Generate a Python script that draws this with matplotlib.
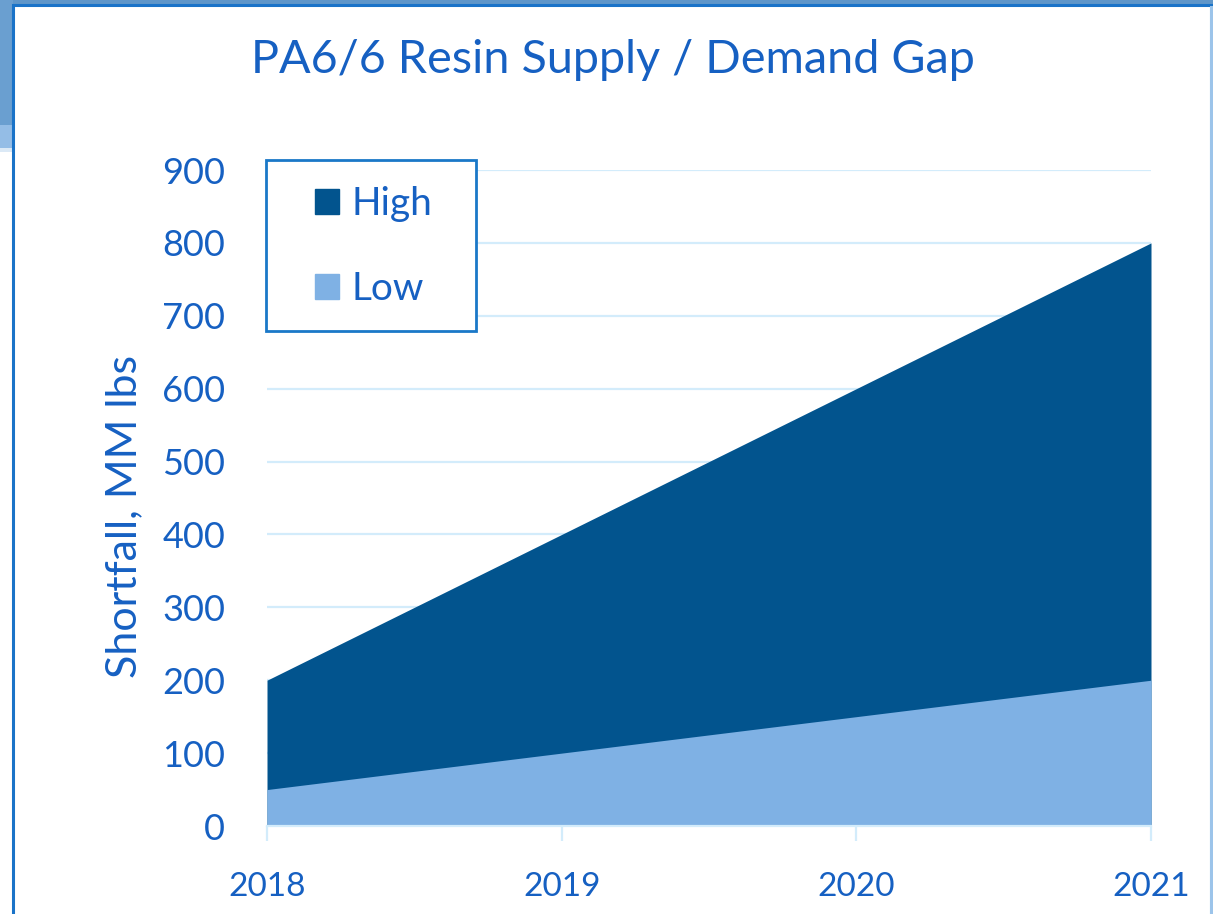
import matplotlib.pyplot as plt
from matplotlib.patches import Rectangle, Patch

# chart data
years = [2018, 2019, 2020, 2021]
high = [200, 400, 600, 800]
low = [50, 100, 150, 200]
y_ticks = [0, 100, 200, 300, 400, 500, 600, 700, 800, 900]

text_blue = '#1660c2'
dark = '#02548e'
light = '#7fb1e4'
grid_blue = '#d3ecfb'

plt.rcParams['font.family'] = ['Lato', 'DejaVu Sans']

W, H = 1213, 914
fig = plt.figure(figsize=(W / 100, H / 100), dpi=100)
fig.patch.set_facecolor('white')

# slide background bits (top strip and left strip with swoosh)
def px_rect(x0, y0, x1, y1, z=-10, **kw):
    r = Rectangle((x0 / W, 1 - y1 / H), (x1 - x0) / W, (y1 - y0) / H,
                  transform=fig.transFigure, figure=fig, zorder=z, **kw)
    fig.patches.append(r)

px_rect(0, 0, W, 6, color='#5f96c9', lw=0)
px_rect(0, 0, 13, 125, color='#6a9fd0', lw=0)
px_rect(0, 125, 13, 150, color='#94bde6', lw=0)
px_rect(0, 148, 13, 152, color='#dbe9f6', lw=0)
px_rect(13, 5, W - 2, H + 5, facecolor='white', edgecolor='#1a73c8', lw=2.2)
px_rect(W - 3, 6, W, H, color='#9cc4ea', lw=0)

ax = fig.add_axes([267 / W, 1 - 826 / H, (1151 - 267) / W, (826 - 170) / H])
ax.set_facecolor('none')

ax.fill_between(years, 0, high, color=dark, lw=0, zorder=2)
ax.fill_between(years, 0, low, color=light, lw=0, zorder=3)

ax.set_xlim(years[0], years[-1])
ax.set_ylim(0, 900)
ax.set_yticks(y_ticks)
ax.set_xticks(years)
ax.yaxis.grid(True, color=grid_blue, lw=1.6, zorder=0)
ax.set_axisbelow(True)

for s in ['top', 'right', 'left']:
    ax.spines[s].set_visible(False)
ax.spines['bottom'].set_color(grid_blue)
ax.spines['bottom'].set_linewidth(1.6)
ax.spines['bottom'].set_zorder(4)

ax.tick_params(axis='y', length=0, pad=30, labelsize=26, labelcolor=text_blue)
ax.tick_params(axis='x', length=11, width=1.6, color=grid_blue, pad=22,
               labelsize=24, labelcolor=text_blue)

fig.text(124 / W, 1 - 517 / H, 'Shortfall, MM lbs', rotation=90, ha='center', va='center',
         fontsize=31, color=text_blue)

fig.text(613 / W, 1 - 60 / H, 'PA6/6 Resin Supply / Demand Gap', ha='center', va='center',
         fontsize=33.7, color=text_blue)

# legend box drawn by hand (wider padding at the sides than on top)
px_rect(266, 160, 476, 331, z=1, facecolor='white', edgecolor='#1a78c8', lw=2)
handles = [Patch(color=dark, label='High'), Patch(color=light, label='Low')]
leg = fig.legend(handles=handles, loc='upper left', bbox_to_anchor=(315 / W, 1 - 186 / H),
                 fontsize=28, frameon=False, labelcolor=text_blue,
                 handlelength=0.62, handleheight=0.62, handletextpad=0.33,
                 labelspacing=1.26, borderpad=0, borderaxespad=0)
leg.set_zorder(2)

fig.savefig('out.png', dpi=100)
